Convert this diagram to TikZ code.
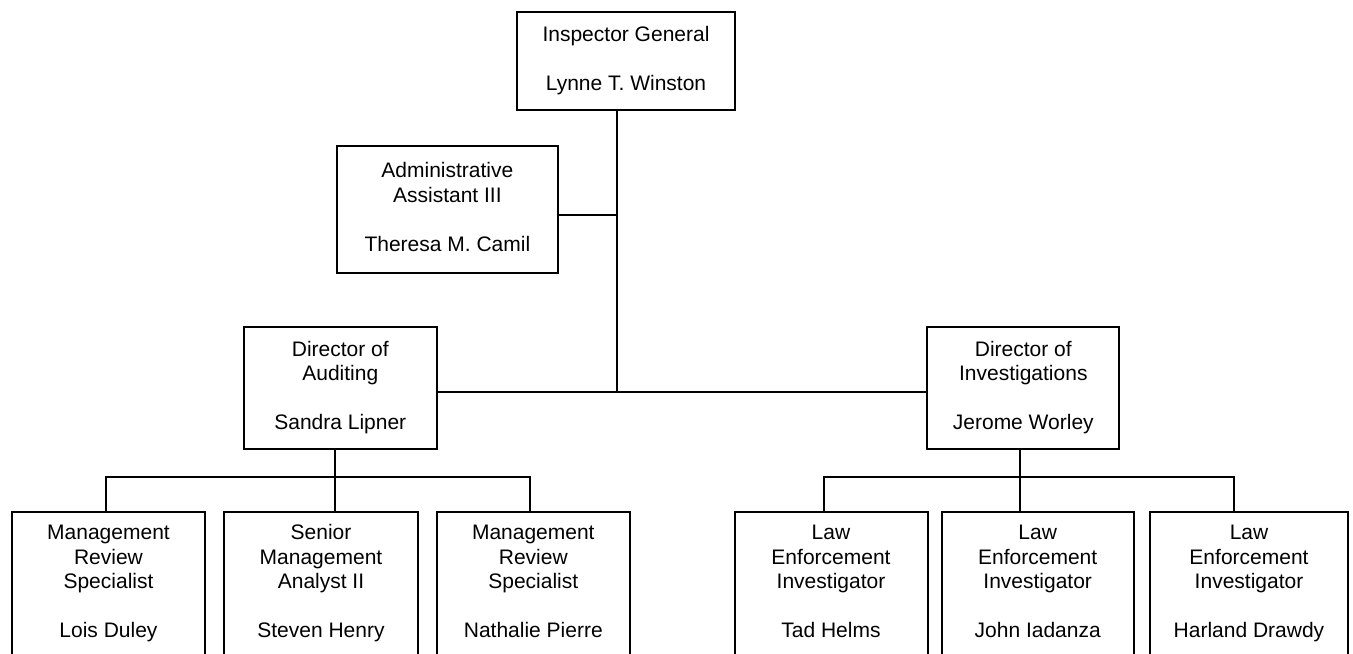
\documentclass[tikz,border=0pt]{standalone}
\usepackage{fontspec}
\setmainfont{Liberation Sans}
\usepackage{tikz}

\begin{document}
\begin{tikzpicture}[x=0.5pt,y=-0.5pt,
    post/.style={draw=black, line width=1pt, align=center, inner sep=0pt,
                 font=\fontsize{10.5}{12.25}\selectfont},
    staff/.style={post, minimum width=96.5pt, minimum height=72.3pt},
    wire/.style={black, line width=1pt}]
  \useasboundingbox (0,0) rectangle (1353,653);
  \clip (0,0) rectangle (1353,653);
  % top of the office
  \node[post, minimum width=109pt, minimum height=49pt] (ig) at (626,61)
    {\strut Inspector General\\~\\Lynne T. Winston\strut};
  \node[post, minimum width=110.4pt, minimum height=63.5pt] (admin) at (447.4,209.5)
    {\strut Administrative\\Assistant III\\~\\Theresa M. Camil\strut};
  \node[post, minimum width=96.4pt, minimum height=61.2pt] (aud) at (340.3,388)
    {\strut Director of\\Auditing\\~\\Sandra Lipner\strut};
  \node[post, minimum width=96pt, minimum height=61.2pt] (inv) at (1023.3,388)
    {\strut Director of\\Investigations\\~\\Jerome Worley\strut};
  % auditing staff
  \node[staff] (mrs1) at (108.5,584)
    {\strut Management\\Review\\Specialist\\~\\Lois Duley\strut};
  \node[staff, minimum width=97pt] (sma) at (321,584)
    {\strut Senior\\Management\\Analyst II\\~\\Steven Henry\strut};
  \node[staff] (mrs2) at (533.3,584)
    {\strut Management\\Review\\Specialist\\~\\Nathalie Pierre\strut};
  % investigations staff
  \node[staff] (lei1) at (831,584)
    {\strut Law\\Enforcement\\Investigator\\~\\Tad Helms\strut};
  \node[staff, minimum width=96pt] (lei2) at (1037.7,584)
    {\strut Law\\Enforcement\\Investigator\\~\\John Iadanza\strut};
  \node[staff, minimum width=99pt] (lei3) at (1249,584)
    {\strut Law\\Enforcement\\Investigator\\~\\Harland Drawdy\strut};
  % joints of the lines
  \coordinate (ajoin) at (617,215);
  \coordinate (hub) at (617,392);
  \coordinate (abusl) at (106,477);
  \coordinate (abus) at (335,477);
  \coordinate (abusr) at (530,477);
  \coordinate (ibusl) at (824,477);
  \coordinate (ibus) at (1020,477);
  \coordinate (ibusr) at (1234,477);
  % lines
  \draw[wire] (ig.south -| hub) -- (hub);
  \draw[wire] (ajoin -| admin.east) -- (ajoin);
  \draw[wire] (hub -| aud.east) -- (hub -| inv.west);
  \draw[wire] (aud.south -| abus) -- (abus |- sma.north);
  \draw[wire] (abusl |- mrs1.north) -- (abusl) -- (abusr) -- (abusr |- mrs2.north);
  \draw[wire] (inv.south -| ibus) -- (ibus |- lei2.north);
  \draw[wire] (ibusl |- lei1.north) -- (ibusl) -- (ibusr) -- (ibusr |- lei3.north);
\end{tikzpicture}
\end{document}
